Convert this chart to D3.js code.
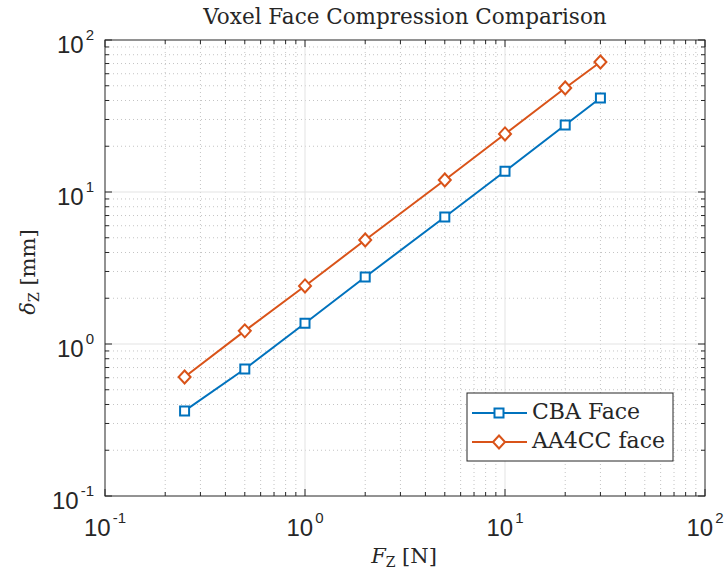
<!DOCTYPE html>
<html>
<head>
<meta charset="utf-8">
<script src="https://cdn.jsdelivr.net/npm/d3@7"></script>
<style>
  body { margin: 0; background: #fff; }
  svg text { fill: #262626; }
</style>
</head>
<body>
<svg id="chart" width="726" height="578"></svg>
<script>
var forces = [0.25, 0.5, 1, 2, 5, 10, 20, 30];
var cbaFace = [0.363, 0.685, 1.37, 2.76, 6.85, 13.7, 27.6, 41.5];
var aa4ccFace = [0.607, 1.22, 2.41, 4.83, 12.0, 24.1, 48.3, 71.7];
var seriesNames = ['CBA Face', 'AA4CC face'];
var decadeTicks = [0.1, 1, 10, 100];
var decadeExps = ['-1', '0', '1', '2'];

var svg = d3.select('#chart')
  , pLeft = 105, pRight = 705, pTop = 40, pBottom = 496
  , blue = '#0072BD', orange = '#D95319';

var x = d3.scaleLog().domain([0.1, 100]).range([pLeft, pRight]);
var y = d3.scaleLog().domain([0.1, 100]).range([pBottom, pTop]);

var minor = [];
[0.1, 1, 10].forEach(function(d) {
  for (var k = 2; k <= 9; k++) minor.push(d * k);
});

// minor grid (dotted)
var grid = svg.append('g');
grid.selectAll('line.mx').data(minor).enter().append('line')
  .attr('x1', x).attr('x2', x).attr('y1', pTop).attr('y2', pBottom)
  .style('stroke', '#c4c4c4').style('stroke-dasharray', '1,3').style('stroke-width', 1);
grid.selectAll('line.my').data(minor).enter().append('line')
  .attr('y1', y).attr('y2', y).attr('x1', pLeft).attr('x2', pRight)
  .style('stroke', '#c4c4c4').style('stroke-dasharray', '1,3').style('stroke-width', 1);
// major grid
grid.selectAll('line.Mx').data(decadeTicks.slice(1, 3)).enter().append('line')
  .attr('x1', x).attr('x2', x).attr('y1', pTop).attr('y2', pBottom)
  .style('stroke', '#e3e3e3').style('stroke-width', 1);
grid.selectAll('line.My').data(decadeTicks.slice(1, 3)).enter().append('line')
  .attr('y1', y).attr('y2', y).attr('x1', pLeft).attr('x2', pRight)
  .style('stroke', '#e3e3e3').style('stroke-width', 1);

// ticks on all four sides, pointing in
var ticks = svg.append('g').style('stroke', '#262626').style('stroke-width', 1);
function tickSet(data, len) {
  ticks.selectAll(null).data(data).enter().append('line')
    .attr('x1', x).attr('x2', x).attr('y1', pBottom).attr('y2', pBottom - len);
  ticks.selectAll(null).data(data).enter().append('line')
    .attr('x1', x).attr('x2', x).attr('y1', pTop).attr('y2', pTop + len);
  ticks.selectAll(null).data(data).enter().append('line')
    .attr('y1', y).attr('y2', y).attr('x1', pLeft).attr('x2', pLeft + len);
  ticks.selectAll(null).data(data).enter().append('line')
    .attr('y1', y).attr('y2', y).attr('x1', pRight).attr('x2', pRight - len);
}
tickSet(decadeTicks, 7);
tickSet(minor, 4);

svg.append('rect')
  .attr('x', pLeft).attr('y', pTop).attr('width', pRight - pLeft).attr('height', pBottom - pTop)
  .style('fill', 'none').style('stroke', '#262626').style('stroke-width', 1);

// tick labels
var sans = 'Liberation Sans, Arial, sans-serif';
function powLabel(i) {
  var t = svg.append('text').style('font-family', sans).style('font-size', '24px');
  t.append('tspan').text('10');
  t.append('tspan').attr('dy', -13).attr('dx', 2).style('font-size', '15px').text(decadeExps[i]);
  return t;
}
decadeTicks.forEach(function(d, i) {
  powLabel(i).attr('x', x(d)).attr('y', 536).attr('text-anchor', 'middle');
  powLabel(i).attr('x', pLeft - 11).attr('y', y(d) + 13).attr('text-anchor', 'end');
});

// series
var sets = [cbaFace, aa4ccFace];
var colors = [blue, orange];
var markers = ['M-4.5,-4.5H4.5V4.5H-4.5Z', 'M0,-6.5L6,0L0,6.5L-6,0Z'];
var line = d3.line().x(function(d) { return x(d[0]); }).y(function(d) { return y(d[1]); });

sets.forEach(function(vals, si) {
  var pts = forces.map(function(f, i) { return [f, vals[i]]; });
  var g = svg.append('g');
  g.append('path').attr('d', line(pts))
    .style('fill', 'none').style('stroke', colors[si]).style('stroke-width', 2);
  g.selectAll('path.m').data(pts).enter().append('path')
    .attr('transform', function(d) { return 'translate(' + x(d[0]) + ',' + y(d[1]) + ')'; })
    .attr('d', markers[si])
    .style('fill', '#fff').style('stroke', colors[si]).style('stroke-width', 2);
});

// title and axis labels
var serif = 'DejaVu Serif, serif';
svg.append('text').attr('x', 405).attr('y', 24).attr('text-anchor', 'middle')
  .style('font-family', serif).style('font-size', '21.5px')
  .text('Voxel Face Compression Comparison');

var xl = svg.append('text').attr('x', 404).attr('y', 563).attr('text-anchor', 'middle')
  .style('font-family', serif).style('font-size', '21px');
xl.append('tspan').style('font-style', 'italic').text('F');
xl.append('tspan').attr('dy', 4).style('font-size', '14px').text('Z');
xl.append('tspan').attr('dy', -4).text(' [N]');

var yl = svg.append('text').attr('transform', 'translate(35,272) rotate(-90)')
  .attr('text-anchor', 'middle').style('font-family', serif).style('font-size', '21px');
yl.append('tspan').style('font-style', 'italic').text('δ');
yl.append('tspan').attr('dy', 4).style('font-size', '14px').text('Z');
yl.append('tspan').attr('dy', -4).text(' [mm]');

// legend
var lg = svg.append('g').attr('transform', 'translate(467,393)');
lg.append('rect').attr('width', 206).attr('height', 68)
  .style('fill', '#fff').style('stroke', '#262626').style('stroke-width', 1);
seriesNames.forEach(function(name, i) {
  var cy = 20 + i * 29;
  lg.append('line').attr('x1', 5).attr('x2', 60).attr('y1', cy).attr('y2', cy)
    .style('stroke', colors[i]).style('stroke-width', 2);
  lg.append('path').attr('transform', 'translate(32,' + cy + ')')
    .attr('d', markers[i])
    .style('fill', '#fff').style('stroke', colors[i]).style('stroke-width', 2);
  lg.append('text').attr('x', 65).attr('y', cy + 6)
    .style('font-family', serif).style('font-size', '22px').text(name);
});
</script>
</body>
</html>
